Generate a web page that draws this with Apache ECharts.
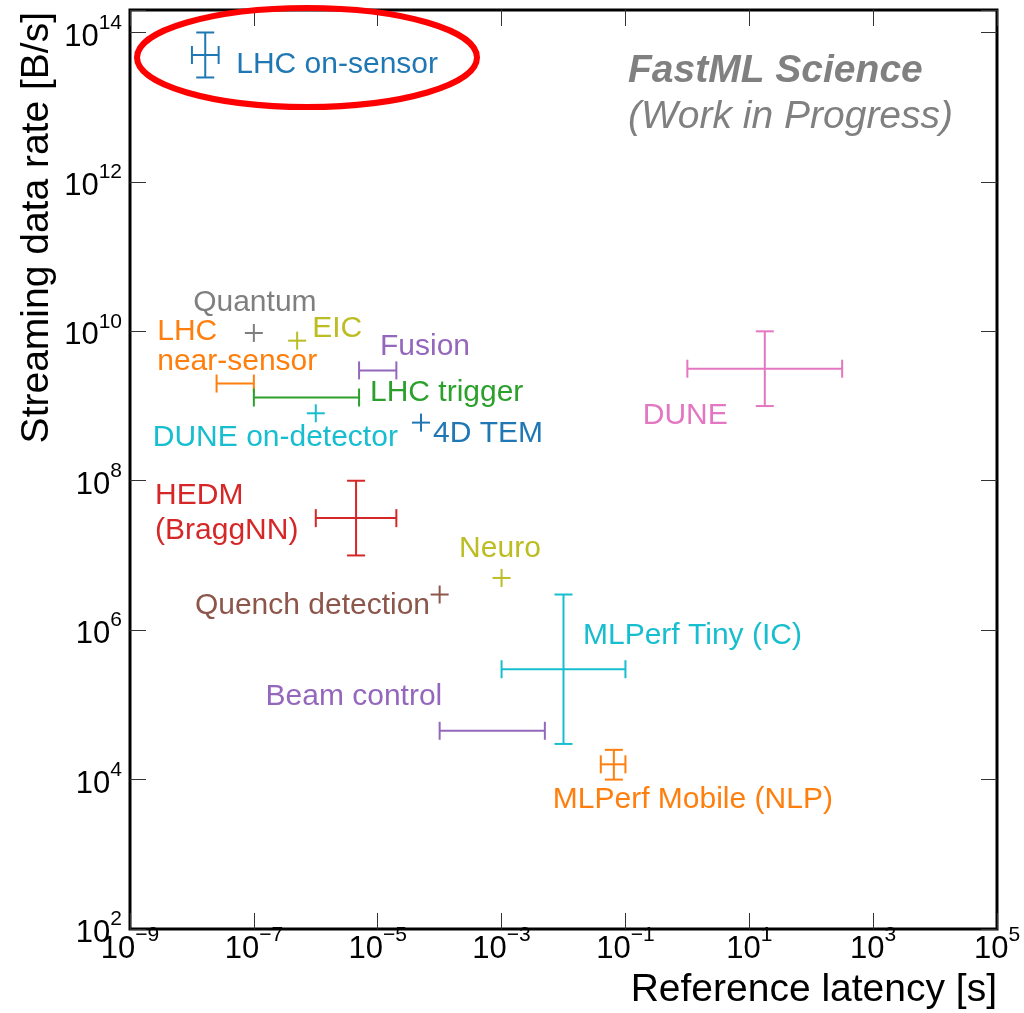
<!DOCTYPE html>
<html>
<head>
<meta charset="utf-8">
<script src="https://cdn.jsdelivr.net/npm/echarts@6/dist/echarts.min.js"></script>
<style>
html,body{margin:0;padding:0;background:#ffffff;}
#chart{width:1024px;height:1013px;}
</style>
</head>
<body>
<div id="chart"></div>
<script>
// ---------------- data ----------------
const names = [
  'LHC on-sensor', 'LHC\nnear-sensor', 'LHC trigger', 'HEDM\n(BraggNN)', 'Fusion',
  'Quench detection', 'DUNE', 'Quantum', 'EIC', 'DUNE on-detector',
  '4D TEM', 'Beam control', 'MLPerf Tiny (IC)', 'MLPerf Mobile (NLP)', 'Neuro'
];
// reference latency [s]: centre, lower and upper bound
const latency     = [1.64e-8, 5e-8,   7.07e-7, 4.47e-6, 1e-5,   1e-4, 17.8, 1e-7, 5e-7, 1e-6, 5e-5, 7.07e-4, 0.01,  0.065, 1e-3];
const latencyLow  = [1e-8,    2.5e-8, 1e-7,    1e-6,    5e-6,   1e-4, 1,    1e-7, 5e-7, 1e-6, 5e-5, 1e-4,    1e-3,  0.04,  1e-3];
const latencyHigh = [2.7e-8,  1e-7,   5e-6,    2e-5,    2e-5,   1e-4, 316,  1e-7, 5e-7, 1e-6, 5e-5, 5e-3,    0.1,   0.1,   1e-3];
// streaming data rate [B/s]: centre, lower and upper bound
const rate     = [5e13,   2e9, 1.3e9, 3.16e7, 3e9, 3e6, 3.16e9, 9.5e9, 7.5e9, 8e8, 6e8, 4.5e4, 3e5, 1.6e4, 5e6];
const rateLow  = [2.5e13, 2e9, 1.3e9, 1e7,    3e9, 3e6, 1e9,    9.5e9, 7.5e9, 8e8, 6e8, 4.5e4, 3e4, 1e4,   5e6];
const rateHigh = [1e14,   2e9, 1.3e9, 1e8,    3e9, 3e6, 1e10,   9.5e9, 7.5e9, 8e8, 6e8, 4.5e4, 3e6, 2.5e4, 5e6];
const markers  = ['none','none','none','none','none','plus','none','plus','plus','plus','plus','none','none','none','plus'];
const xTickExponents = [-9, -7, -5, -3, -1, 1, 3, 5];
const yTickExponents = [2, 4, 6, 8, 10, 12, 14];
const xAxisTitle = 'Reference latency [s]';
const yAxisTitle = 'Streaming data rate [B/s]';
const watermark = ['FastML Science', '(Work in Progress)'];

// ---------------- styles / layout ----------------
const colors = ['#1f77b4','#ff7f0e','#2ca02c','#d62728','#9467bd','#8c564b','#e377c2','#7f7f7f',
                '#bcbd22','#17becf','#1f77b4','#9467bd','#17becf','#ff7f0e','#bcbd22'];
// label anchor offsets (pixels) relative to each point's centre
const labelLayout = [
  {dx: 31,   dy: 10,  align: 'left'},
  {dx: -78,  dy: -37, align: 'left', lh: 29.5},
  {dx: 63.5, dy: -5,  align: 'left'},
  {dx: -201, dy: -5,  align: 'left', lh: 34.5},
  {dx: 2.3,  dy: -24, align: 'left'},
  {dx: -9.6, dy: 11.5, align: 'right'},
  {dx: -122, dy: 47,  align: 'left'},
  {dx: 1,    dy: -30, align: 'center'},
  {dx: 15,   dy: -12, align: 'left'},
  {dx: -163, dy: 24,  align: 'left'},
  {dx: 12,   dy: 11,  align: 'left'},
  {dx: -50,  dy: -34, align: 'right'},
  {dx: 19.5, dy: -33, align: 'left'},
  {dx: 79,   dy: 35,  align: 'center'},
  {dx: -1.6, dy: -29, align: 'center'}
];
const FONT = "'Liberation Sans', Arial, Helvetica, sans-serif";
const CAP = 9;      // half-length of error-bar caps / plus arms
const LW = 2;

const lg = Math.log10;
const xMin = lg(1e-9), xMax = lg(1e5);
const yMin = lg(1e2), yMax = lg(2e14);

function tickFormatter(v) {
  if (Math.abs(v - Math.round(v)) > 1e-6) return '';
  const e = Math.round(v);
  return '{b|10}{s|' + String(e).replace('-', '\u2212') + '}';
}
const richTicks = {
  b: {fontSize: 31, lineHeight: 40, verticalAlign: 'bottom', fontFamily: FONT, color: '#000'},
  s: {fontSize: 21, lineHeight: 8, verticalAlign: 'top', fontFamily: FONT, color: '#000'}
};
const tickStyle = {show: true, inside: true, length: 16, lineStyle: {color: '#333', width: 1}};
const noLine = {show: false, onZero: false};

function buildSeries(i) {
  return {
    type: 'custom',
    name: names[i].replace('\n', ' '),
    xAxisIndex: 0, yAxisIndex: 0,
    clip: false,
    data: [[lg(latency[i]), lg(rate[i]), lg(latencyLow[i]), lg(latencyHigh[i]), lg(rateLow[i]), lg(rateHigh[i])]],
    renderItem: function (params, api) {
      const c = api.coord([api.value(0), api.value(1)]);
      const xa = api.coord([api.value(2), api.value(1)])[0];
      const xb = api.coord([api.value(3), api.value(1)])[0];
      const ya = api.coord([api.value(0), api.value(4)])[1];
      const yb = api.coord([api.value(0), api.value(5)])[1];
      const col = colors[i];
      const line = (x1, y1, x2, y2) => ({type: 'line', shape: {x1, y1, x2, y2}, style: {stroke: col, lineWidth: LW}});
      const ch = [];
      if (Math.abs(xb - xa) > 0.5) {
        ch.push(line(xa, c[1], xb, c[1]));
        ch.push(line(xa, c[1] - CAP, xa, c[1] + CAP));
        ch.push(line(xb, c[1] - CAP, xb, c[1] + CAP));
      }
      if (Math.abs(yb - ya) > 0.5) {
        ch.push(line(c[0], ya, c[0], yb));
        ch.push(line(c[0] - CAP, ya, c[0] + CAP, ya));
        ch.push(line(c[0] - CAP, yb, c[0] + CAP, yb));
      }
      if (markers[i] === 'plus') {
        ch.push(line(c[0] - CAP, c[1], c[0] + CAP, c[1]));
        ch.push(line(c[0], c[1] - CAP, c[0], c[1] + CAP));
      }
      const L = labelLayout[i];
      const ts = {text: names[i], fill: col, fontSize: 30, fontFamily: FONT,
                  align: L.align, textAlign: L.align, verticalAlign: 'middle', textVerticalAlign: 'middle'};
      if (L.lh) ts.lineHeight = L.lh;
      ch.push({type: 'text', x: c[0] + L.dx, y: c[1] + L.dy, style: ts});
      return {type: 'group', children: ch};
    }
  };
}

const series = names.map((n, i) => buildSeries(i));

const chart = echarts.init(document.getElementById('chart'), null, {renderer: 'canvas'});
chart.setOption({
  animation: false,
  backgroundColor: '#ffffff',
  grid: {left: 130, right: 27, top: 10, bottom: 84, containLabel: false, outerBoundsMode: 'none',
         show: true, borderColor: '#000', borderWidth: 3, backgroundColor: 'transparent'},
  xAxis: [
    {type: 'value', min: xMin, max: xMax, interval: xTickExponents[1] - xTickExponents[0], position: 'bottom',
     axisLine: noLine, splitLine: {show: false}, axisTick: tickStyle,
     axisLabel: {margin: -4, formatter: tickFormatter, rich: richTicks, showMinLabel: true, showMaxLabel: true}},
    {type: 'value', min: xMin, max: xMax, interval: xTickExponents[1] - xTickExponents[0], position: 'top',
     axisLine: noLine, splitLine: {show: false}, axisTick: tickStyle, axisLabel: {show: false}}
  ],
  yAxis: [
    {type: 'value', min: yMin, max: yMax, interval: yTickExponents[1] - yTickExponents[0], position: 'left',
     axisLine: noLine, splitLine: {show: false}, axisTick: tickStyle,
     axisLabel: {margin: 8, formatter: tickFormatter, rich: richTicks}},
    {type: 'value', min: yMin, max: yMax, interval: yTickExponents[1] - yTickExponents[0], position: 'right',
     axisLine: noLine, splitLine: {show: false}, axisTick: tickStyle, axisLabel: {show: false}}
  ],
  graphic: [
    {type: 'text', x: 997, y: 990, z: 10,
     style: {text: xAxisTitle, fill: '#000', fontSize: 39, fontFamily: FONT,
             align: 'right', textAlign: 'right', verticalAlign: 'middle', textVerticalAlign: 'middle'}},
    {type: 'text', x: 37, y: 12, rotation: Math.PI / 2, z: 10,
     style: {text: yAxisTitle, fill: '#000', fontSize: 39, fontFamily: FONT,
             align: 'right', textAlign: 'right', verticalAlign: 'middle', textVerticalAlign: 'middle'}},
    {type: 'text', x: 628, y: 71, z: 10,
     style: {text: watermark[0], fill: '#808080', fontSize: 39, fontWeight: 'bold', fontStyle: 'italic', fontFamily: FONT,
             align: 'left', textAlign: 'left', verticalAlign: 'middle', textVerticalAlign: 'middle'}},
    {type: 'text', x: 628, y: 117, z: 10,
     style: {text: watermark[1], fill: '#808080', fontSize: 39, fontStyle: 'italic', fontFamily: FONT,
             align: 'left', textAlign: 'left', verticalAlign: 'middle', textVerticalAlign: 'middle'}},
    {type: 'ellipse', z: 20, shape: {cx: 307, cy: 57.5, rx: 170, ry: 49.5},
     style: {fill: 'none', stroke: '#ff0000', lineWidth: 6}}
  ],
  series: series
});
</script>
</body>
</html>
